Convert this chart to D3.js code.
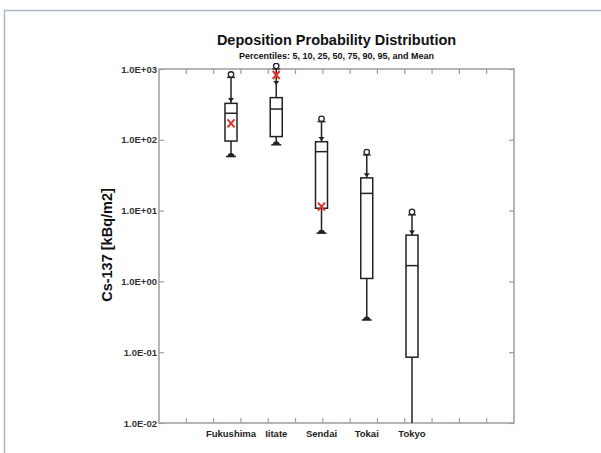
<!DOCTYPE html>
<html>
<head>
<meta charset="utf-8">
<script src="https://cdn.jsdelivr.net/npm/d3@7"></script>
<style>
body { margin: 0; background: #fff; }
svg text { font-family: "Liberation Sans", Arial, Helvetica, sans-serif; font-weight: bold; }
</style>
</head>
<body>
<div id="chart"></div>
<script>
// data (kBq/m2)
var sites = ["Fukushima", "Iitate", "Sendai", "Tokai", "Tokyo"];
var p5  = [58, 85, 4.8, 0.285, 0.003];
var p10 = [65, 94, 5.5, 0.335, 0.005];
var p25 = [96, 111, 10.8, 1.1, 0.085];
var p50 = [237, 272, 68, 17.5, 1.67];
var p75 = [327, 394, 94, 29, 4.5];
var p90 = [343, 594, 96, 29.5, 4.6];
var p95 = [760, 1000, 180, 61, 8.7];
var means = [171, 822, 11.4, null, null];
var yTicks = [1e-2, 1e-1, 1e0, 1e1, 1e2, 1e3];

var svgWidth = 601, svgHeight = 453;
var margin = {top: 69, right: 87, bottom: 30, left: 159};
var width = svgWidth - margin.left - margin.right;
var height = svgHeight - margin.top - margin.bottom;

var svg = d3.select("#chart").append("svg")
    .attr("width", svgWidth)
    .attr("height", svgHeight);

// outer frame of the page
svg.append("path")
    .attr("d", "M4.5,453 L4.5,10.5 L601,10.5")
    .attr("fill", "none")
    .attr("stroke", "#a9b8cc")
    .attr("stroke-width", 1.5);

var chartGroup = svg.append("g")
    .attr("transform", `translate(${margin.left},${margin.top})`);

var x = d3.scalePoint().domain(sites).range([72, 253]);
var y = d3.scaleLog().domain([1e-2, 1e3]).range([height, 0]);

var frameColor = "#a39b9b";

// minor ticks along top and bottom
var xt = d3.range(1, 13).map(function(i) { return i * width / 13; });
chartGroup.selectAll(".tb").data(xt).enter().append("line")
    .attr("x1", d => d).attr("x2", d => d)
    .attr("y1", height).attr("y2", height - 5)
    .attr("stroke", frameColor).attr("stroke-width", 1.2);
chartGroup.selectAll(".tt").data(xt).enter().append("line")
    .attr("x1", d => d).attr("x2", d => d)
    .attr("y1", 0).attr("y2", 5)
    .attr("stroke", frameColor).attr("stroke-width", 1.2);

// left axis
var leftAxis = d3.axisLeft(y).tickValues(yTicks).tickSize(-5).tickPadding(4)
    .tickFormat(function(d) {
        var e = Math.round(Math.log10(d));
        return "1.0E" + (e < 0 ? "-" : "+") + String(Math.abs(e)).padStart(2, "0");
    });
var gl = chartGroup.append("g").call(leftAxis);
gl.select(".domain").remove();
gl.selectAll("line").attr("stroke", frameColor).attr("stroke-width", 1.2);
gl.selectAll("text").attr("font-size", "9.5px").attr("fill", "#333").attr("x", -2);

var gr = chartGroup.append("g").attr("transform", `translate(${width},0)`)
    .call(d3.axisRight(y).tickValues(yTicks).tickSize(-5).tickFormat(""));
gr.select(".domain").remove();
gr.selectAll("line").attr("stroke", frameColor).attr("stroke-width", 1.2);

chartGroup.append("rect")
    .attr("width", width).attr("height", height)
    .attr("fill", "none").attr("stroke", frameColor).attr("stroke-width", 1.5);

// category labels
chartGroup.selectAll(".xl").data(sites).enter().append("text")
    .attr("x", d => x(d)).attr("y", height + 14)
    .attr("text-anchor", "middle")
    .attr("font-size", "9.5px").attr("fill", "#222")
    .text(d => d);

// clip
svg.append("clipPath").attr("id", "clip").append("rect")
    .attr("x", 0).attr("y", -6).attr("width", width).attr("height", height + 6);

var boxes = chartGroup.append("g").attr("clip-path", "url(#clip)");
var bw = 12, ink = "#222";

sites.forEach(function(s, i) {
    var cx = x(s);
    var g = boxes.append("g");
    // whiskers
    g.append("line").attr("x1", cx).attr("x2", cx)
        .attr("y1", y(p75[i])).attr("y2", y(p95[i]))
        .attr("stroke", ink).attr("stroke-width", 1.5);
    g.append("line").attr("x1", cx).attr("x2", cx)
        .attr("y1", y(p25[i])).attr("y2", y(p5[i]))
        .attr("stroke", ink).attr("stroke-width", 1.5);
    // box
    g.append("rect")
        .attr("x", cx - bw / 2).attr("y", y(p75[i]))
        .attr("width", bw).attr("height", y(p25[i]) - y(p75[i]))
        .attr("fill", "#fff").attr("stroke", ink).attr("stroke-width", 1.5);
    g.append("line").attr("x1", cx - bw / 2).attr("x2", cx + bw / 2)
        .attr("y1", y(p50[i])).attr("y2", y(p50[i]))
        .attr("stroke", ink).attr("stroke-width", 1.5);
    // 90th: small down arrowhead
    g.append("path")
        .attr("d", `M${cx - 3},${y(p90[i]) - 4} L${cx + 3},${y(p90[i]) - 4} L${cx},${y(p90[i])} Z`)
        .attr("fill", ink);
    // 95th: cap with open circle
    g.append("line").attr("x1", cx - 4).attr("x2", cx + 4)
        .attr("y1", y(p95[i])).attr("y2", y(p95[i]))
        .attr("stroke", ink).attr("stroke-width", 1.3);
    g.append("circle").attr("cx", cx).attr("cy", y(p95[i]) - 3)
        .attr("r", 2.7).attr("fill", "#fff").attr("stroke", ink).attr("stroke-width", 1.3);
    // 10th: filled dome, 5th: cap
    g.append("path")
        .attr("d", `M${cx - 3.5},${y(p5[i])} A3.5,3.5 0 0 1 ${cx + 3.5},${y(p5[i])} Z`)
        .attr("fill", ink);
    g.append("line").attr("x1", cx - 5).attr("x2", cx + 5)
        .attr("y1", y(p5[i])).attr("y2", y(p5[i]))
        .attr("stroke", ink).attr("stroke-width", 1.5);
    // mean
    if (means[i] != null) {
        var my = y(means[i]);
        g.append("path")
            .attr("d", `M${cx - 3.5},${my - 4} L${cx + 3.5},${my + 4} M${cx + 3.5},${my - 4} L${cx - 3.5},${my + 4}`)
            .attr("stroke", "#e2312b").attr("stroke-width", 2).attr("fill", "none");
    }
});

// titles
svg.append("text")
    .attr("x", margin.left + width / 2).attr("y", 45)
    .attr("text-anchor", "middle").attr("font-size", "14.5px").attr("fill", "#111")
    .text("Deposition Probability Distribution");
svg.append("text")
    .attr("x", margin.left + width / 2).attr("y", 59)
    .attr("text-anchor", "middle").attr("font-size", "9px").attr("fill", "#111")
    .text("Percentiles: 5, 10, 25, 50, 75, 90, 95, and Mean");

svg.append("text")
    .attr("transform", `translate(112,${margin.top + 176}) rotate(-90)`)
    .attr("text-anchor", "middle").attr("font-size", "14.5px").attr("fill", "#111")
    .text("Cs-137 [kBq/m2]");
</script>
</body>
</html>
